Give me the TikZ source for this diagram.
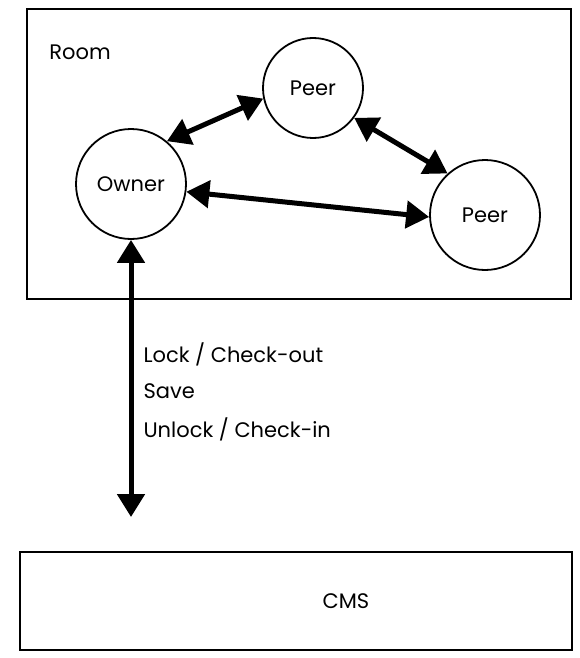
\documentclass[tikz,border=0pt]{standalone}
\usepackage{fontspec}
\setmainfont{Poppins}
\usetikzlibrary{arrows.meta}

\begin{document}
\begin{tikzpicture}[x=1pt,y=-1pt,
  box/.style={draw,line width=2.6pt,inner sep=0pt},
  peer/.style={circle,draw,line width=1.8pt,inner sep=0pt},
  link/.style={line width=5pt,{Triangle[length=23pt,width=27pt]}-{Triangle[length=23pt,width=27pt]}},
  lbl/.style={font=\fontsize{21}{25}\selectfont}
]
\useasboundingbox (0,0) rectangle (580,658);

%%%% room
%%%%
\node[box,minimum width=544pt,minimum height=290pt](room) at(299,154) {};
\node[lbl](roomlbl) at(80,52) {Room};

\node[peer,minimum size=110pt,lbl](owner) at(131,184) {Owner};
\node[peer,minimum size=100pt,lbl](peer1) at(313,88) {Peer};
\node[peer,minimum size=110pt,lbl](peer2) at(485,215) {Peer};

\foreach \u \v in{
owner.50/peer1.192,peer1.-36/peer2.132,owner.-8/peer2.182%
}{
\draw[link] (\u) -- (\v);
}

%%%% cms
%%%%
\node[box,minimum width=552pt,minimum height=98pt](cms) at(296,601) {};
\node[lbl](cmslbl) at(346,601) {CMS};

\coordinate(tip) at(131,517);
\draw[link] (owner.south) -- (tip);

\foreach[count=\i] \y \t in{
354/{Lock / Check-out},391/{Save},429/{Unlock / Check-in}%
}{
\node[lbl,anchor=west](op\i) at(140,\y) {\t};
}

\end{tikzpicture}
\end{document}
